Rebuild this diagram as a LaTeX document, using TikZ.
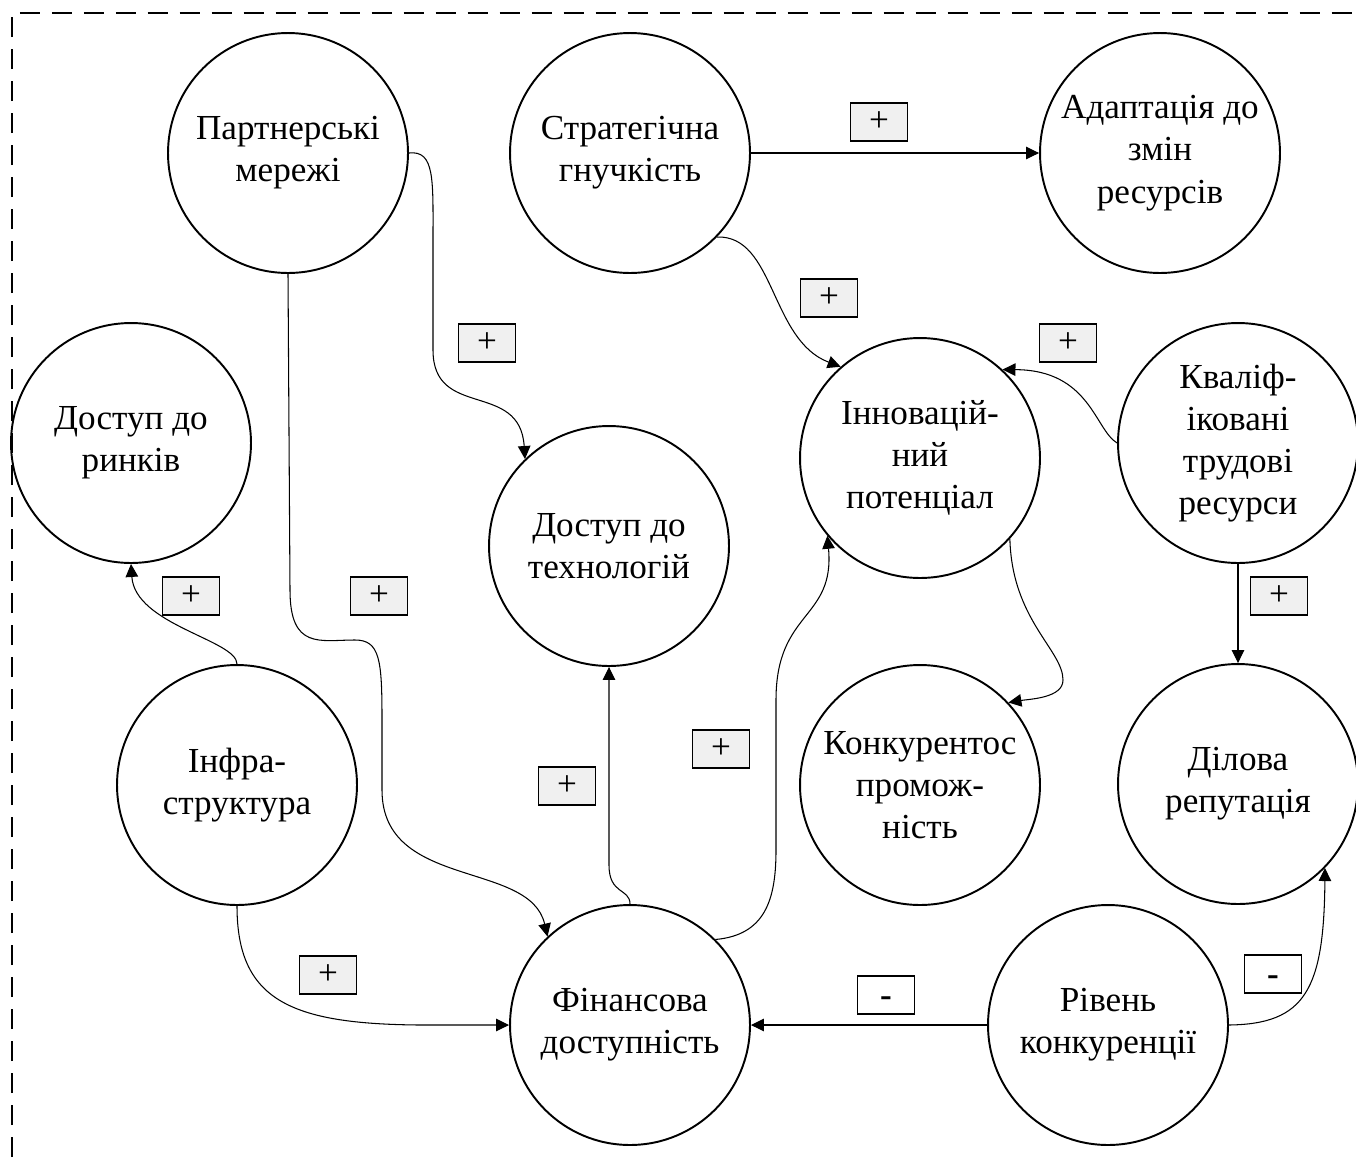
\documentclass[tikz,border=0pt]{standalone}
\usepackage{fontspec}
\setmainfont{Liberation Serif}
\usetikzlibrary{arrows.meta}

\definecolor{signfill}{HTML}{F0F0F0}

\tikzset{
	factor/.style = {draw, circle, line width = 1.1pt, minimum size = 4.8cm, inner sep = 0pt,
		align = center, font = \fontsize{20}{24}\selectfont},
	link/.style = {line width = 0.6pt, -{Triangle[length = 0.26cm, width = 0.25cm]}},
	plus/.style = {draw, line width = 0.8pt, fill = signfill, minimum width = 1.14cm,
		minimum height = 0.76cm, inner sep = 0pt, font = \fontsize{20}{24}\selectfont},
	minus/.style = {plus, fill = white, text height = 0.8em, text depth = 0.25em,
		font = \fontsize{20}{24}\selectfont\bfseries}
}

\begin{document}
\begin{tikzpicture}[x = 0.02cm, y = -0.02cm]

	\useasboundingbox (0, 0) rectangle (1356, 1157);
	\draw[line width = 1.1pt, dash pattern = on 0.4cm off 0.24cm] (12, 1157) -- (12, 13) -- (1356, 13);

	% factors
	\node[factor] (part)  at (288, 153)  {Партнерські\\мережі};
	\node[factor] (strat) at (630, 153)  {Стратегічна\\гнучкість};
	\node[factor] (adapt) at (1160, 153) {Адаптація до\\змін\\ресурсів};
	\node[factor] (rynky) at (131, 443)  {Доступ до\\ринків};
	\node[factor] (tekhn) at (609, 546)  {Доступ до\\технологій};
	\node[factor] (innov) at (920, 458)  {Інновацій-\\ний\\потенціал};
	\node[factor] (kadry) at (1238, 443) {Кваліф-\\іковані\\трудові\\ресурси};
	\node[factor] (infra) at (237, 785)  {Інфра-\\структура};
	\node[factor] (konk)  at (920, 785)  {Конкурентос\\промож-\\ність};
	\node[factor] (repu)  at (1238, 784) {Ділова\\репутація};
	\node[factor] (fin)   at (630, 1025) {Фінансова\\доступність};
	\node[factor] (riven) at (1108, 1025) {Рівень\\конкуренції};

	% links
	\draw[link] (strat.east) -- (adapt.west);
	\draw[link] (strat.-44) .. controls (775, 235) and (770, 340) .. (innov.131);
	\draw[link] (part.east) .. controls (435, 150) and (433, 180) .. (433, 240) -- (433, 350)
		.. controls (433, 420) and (520, 380) .. (tekhn.134);
	\draw[link] (part.south) -- (290, 590) .. controls (290, 650) and (320, 640) .. (355, 640)
		.. controls (380, 640) and (382, 660) .. (382, 720) -- (382, 790)
		.. controls (382, 890) and (530, 860) .. (fin.133);
	\draw[link] (kadry.west) .. controls (1095, 430) and (1090, 370) .. (innov.47);
	\draw[link] (kadry.south) -- (repu.north);
	\draw[link] (innov.-42) .. controls (1012, 620) and (1063, 650) .. (1063, 680)
		.. controls (1063, 698) and (1030, 699) .. (konk.43);
	\draw[link] (infra.north) .. controls (237, 640) and (135, 625) .. (rynky.south);
	\draw[link] (infra.south) .. controls (237, 1000) and (290, 1024) .. (420, 1025) -- (fin.west);
	\draw[link] (fin.north) .. controls (630, 888) and (609, 895) .. (609, 865) -- (tekhn.south);
	\draw[link] (fin.45) .. controls (765, 935) and (776, 900) .. (776, 850) -- (776, 700)
		.. controls (776, 610) and (835, 620) .. (innov.220);
	\draw[link] (riven.west) -- (fin.east);
	\draw[link] (riven.east) .. controls (1305, 1024) and (1324, 990) .. (repu.-44);

	% signs
	\node[plus] (s1)  at (879, 122)  {+};
	\node[plus] (s2)  at (829, 298)  {+};
	\node[plus] (s3)  at (487, 343)  {+};
	\node[plus] (s4)  at (1068, 343) {+};
	\node[plus] (s5)  at (1279, 596) {+};
	\node[plus] (s6)  at (191, 596)  {+};
	\node[plus] (s7)  at (379, 596)  {+};
	\node[plus] (s8)  at (567, 786)  {+};
	\node[plus] (s9)  at (721, 749)  {+};
	\node[plus] (s10) at (328, 975)  {+};
	\node[minus] (s11) at (886, 995) {\raisebox{-4pt}{-}};
	\node[minus] (s12) at (1273, 974) {\raisebox{-4pt}{-}};

\end{tikzpicture}
\end{document}
